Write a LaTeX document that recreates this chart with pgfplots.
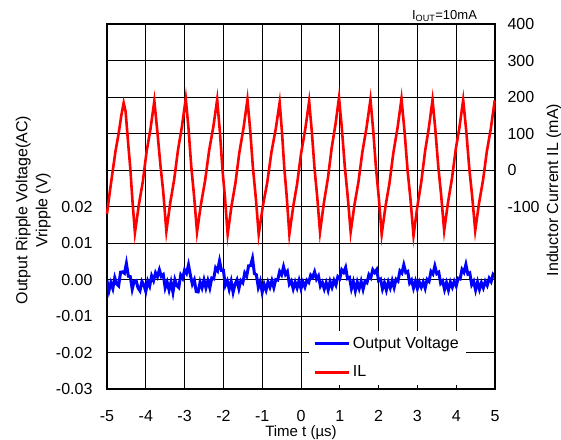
\documentclass[border=0pt]{standalone}
\usepackage{pgfplots}
\pgfplotsset{compat=1.18}
\usepackage{fontspec}
\setmainfont{Liberation Sans}
\begin{document}
\fontsize{16bp}{19bp}\selectfont
\begin{tikzpicture}
\begin{axis}[
  name=left,
  at={(0,0)}, anchor=south west,
  scale only axis, width=388bp, height=365bp,
  xmin=-5, xmax=5, ymin=-0.03, ymax=0.07,
  scaled y ticks=false, scaled x ticks=false,
  xtick={-5,-4,-3,-2,-1,0,1,2,3,4,5},
  xticklabels={-5,-4,-3,-2,-1,0,1,2,3,4,5},
  ytick={-0.03,-0.02,-0.01,0,0.01,0.02,0.03,0.04,0.05,0.06,0.07},
  yticklabels={-0.03,-0.02,-0.01,0.00,0.01,0.02,{},{},{},{},{}},
  /pgf/number format/assume math mode=true,
  grid=major,
  major grid style={black, line width=0.8bp},
  axis line style={black, line width=1.2bp},
  major tick length=0pt,
  xticklabel style={inner sep=1bp, yshift=-20bp},
  yticklabel style={xshift=-9bp},
  every axis x label/.style={at={(axis description cs:0.5,0)}, anchor=north, inner sep=0pt, yshift=-36.5bp, font=\fontsize{15bp}{18bp}\selectfont},
  every axis y label/.style={at={(axis description cs:-0.131,0.49)}, anchor=south, rotate=90, align=center, font=\fontsize{16bp}{20bp}\selectfont},
  xlabel={Time t (µs)},
  ylabel={Output Ripple Voltage(AC)\\Vripple (V)},
]
\addplot[blue, line width=3bp] coordinates {
(-5.00,-0.0003) (-4.95,-0.0031) (-4.90,-0.0009) (-4.85,-0.0025) (-4.80,0.0005)
(-4.75,-0.0012) (-4.70,-0.00175) (-4.65,0.0020) (-4.60,0.0021) (-4.55,0.0017)
(-4.50,0.0044) (-4.45,0.0009) (-4.40,0.0008) (-4.35,-0.00265) (-4.30,-0.00045)
(-4.25,-0.0003) (-4.20,-0.0023) (-4.15,-0.0031) (-4.10,-0.0005) (-4.05,-0.0015)
(-4.00,-0.0033) (-3.95,-0.00045) (-3.90,-0.0018) (-3.85,0.0010) (-3.80,-0.0003)
(-3.75,0.00185) (-3.70,0.00075) (-3.65,0.00265) (-3.60,0.00085) (-3.55,0.00135)
(-3.50,-0.0023) (-3.45,-0.0007) (-3.40,-0.0029) (-3.35,-0.0007) (-3.30,-0.0035)
(-3.25,-0.0001) (-3.20,-0.0017) (-3.15,-0.0022) (-3.10,0.0012) (-3.05,0.0003)
(-3.00,0.0026) (-2.95,0.0017) (-2.90,0.0040) (-2.85,0.0012) (-2.80,-0.0013)
(-2.75,-0.0001) (-2.70,-0.0033) (-2.65,-0.0034) (-2.60,-0.0007) (-2.55,-0.0023)
(-2.50,-0.0001) (-2.45,-0.0023) (-2.40,-0.0003) (-2.35,-0.0023) (-2.30,0.0004)
(-2.25,0.0002) (-2.20,0.0032) (-2.15,0.0024) (-2.10,0.0051) (-2.05,0.0025)
(-2.00,0.0025) (-1.95,-0.0016) (-1.90,-0.0004) (-1.85,-0.0027) (-1.80,-0.0005)
(-1.75,-0.0035) (-1.70,-0.0013) (-1.65,-0.0001) (-1.60,-0.0025) (-1.55,-0.0003)
(-1.50,-0.0009) (-1.45,0.0018) (-1.40,0.0009) (-1.35,0.00375) (-1.30,0.0038)
(-1.25,0.0058) (-1.20,0.0016) (-1.15,0.0013) (-1.10,-0.00215) (-1.05,-0.0005)
(-1.00,-0.0035) (-0.95,-0.0013) (-0.90,-0.0029) (-0.85,-0.0007) (-0.80,-0.0021)
(-0.75,-0.0003) (-0.70,-0.0022) (-0.65,0.0000) (-0.60,-0.00015) (-0.55,0.0022)
(-0.50,0.0013) (-0.45,0.0035) (-0.40,0.0014) (-0.35,0.0022) (-0.30,-0.00125)
(-0.25,-0.0004) (-0.20,-0.00255) (-0.15,-0.0007) (-0.10,-0.0023) (-0.05,-0.0003)
(0.00,-0.0025) (0.05,-0.0007) (0.10,-0.00205) (0.15,-0.0002) (0.20,-0.0008)
(0.25,0.0012) (0.30,0.0006) (0.35,0.0021) (0.40,0.0001) (0.45,0.0010)
(0.50,-0.0018) (0.55,-0.0008) (0.60,-0.0026) (0.65,-0.0009) (0.70,-0.0029)
(0.75,-0.0005) (0.80,-0.0021) (0.85,-0.00025) (0.90,-0.0015) (0.95,0.0008)
(1.00,0.00025) (1.05,0.00265) (1.10,0.00195) (1.15,0.0033) (1.20,0.00025)
(1.25,0.00055) (1.30,-0.0025) (1.35,-0.0006) (1.40,-0.0031) (1.45,-0.0007)
(1.50,-0.0025) (1.55,-0.0005) (1.60,-0.0027) (1.65,-0.0005) (1.70,-0.0009)
(1.75,0.0013) (1.80,0.0005) (1.85,0.0027) (1.90,0.0019) (1.95,0.0027)
(2.00,-0.0003) (2.05,0.0001) (2.10,-0.0026) (2.15,-0.0009) (2.20,-0.0029)
(2.25,-0.0007) (2.30,-0.0023) (2.35,-0.0003) (2.40,-0.0022) (2.45,0.00005)
(2.50,-0.00045) (2.55,0.00235) (2.60,0.00175) (2.65,0.0040) (2.70,0.0019)
(2.75,0.0022) (2.80,-0.00095) (2.85,-0.00015) (2.90,-0.00235) (2.95,-0.0005)
(3.00,-0.0025) (3.05,-0.0007) (3.10,-0.0021) (3.15,-0.0007) (3.20,-0.0024)
(3.25,0.0000) (3.30,-0.00055) (3.35,0.0022) (3.40,0.0015) (3.45,0.0037)
(3.50,0.0016) (3.55,0.0020) (3.60,-0.00105) (3.65,-0.0004) (3.70,-0.00275)
(3.75,-0.0009) (3.80,-0.0029) (3.85,-0.0007) (3.90,-0.0021) (3.95,-0.0005)
(4.00,-0.0018) (4.05,0.00035) (4.10,0.00015) (4.15,0.00275) (4.20,0.00195)
(4.25,0.0041) (4.30,0.0015) (4.35,0.0018) (4.40,-0.00145) (4.45,-0.0005)
(4.50,-0.0029) (4.55,-0.0007) (4.60,-0.0027) (4.65,-0.0009) (4.70,-0.0023)
(4.75,-0.0005) (4.80,-0.0016) (4.85,0.0003) (4.90,-0.0006) (4.95,0.0014)
(5.00,0.0008)
};
\end{axis}
\begin{axis}[
  at={(0,0)}, anchor=south west,
  scale only axis, width=388bp, height=365bp,
  xmin=-5, xmax=5, ymin=-600, ymax=400,
  axis x line=none,
  axis y line*=right,
  axis line style={black, line width=1.2bp},
  ytick={-600,-500,-400,-300,-200,-100,0,100,200,300,400},
  yticklabels={{},{},{},{},{},-100,0,100,200,300,400},
  /pgf/number format/assume math mode=true,
  major tick length=0pt,
  yticklabel style={xshift=7bp},
  every axis y label/.style={at={(axis description cs:1.1186,0.545)}, anchor=north, rotate=90},
  ylabel={Inductor Current IL (mA)},
  clip=false,
  legend style={at={(0.925,0.01)}, anchor=south east, draw=none, fill=white,
    inner xsep=5bp, inner ysep=4bp, row sep=11bp},
  legend cell align=left,
  legend image code/.code={\draw[#1] (0bp,0bp) -- (34bp,0bp);},
]
\addlegendimage{blue, line width=3bp}
\addlegendentry{Output Voltage}
\addplot[red, line width=2.6bp] coordinates {
(-5.00,-120) (-4.93,-62) (-4.86,-8) (-4.78,52) (-4.70,100) (-4.63,150) (-4.57,184)
(-4.52,160) (-4.46,80) (-4.40,5) (-4.34,-90) (-4.28,-172)
(-4.18,-96) (-4.08,-34) (-3.98,50) (-3.88,112) (-3.78,189)
(-3.70,103) (-3.62,10) (-3.55,-60) (-3.47,-168)
(-3.37,-90) (-3.27,-27) (-3.17,55) (-3.07,118) (-2.97,196)
(-2.90,115) (-2.83,12) (-2.75,-78) (-2.68,-170)
(-2.58,-95) (-2.47,-28) (-2.37,52) (-2.26,118) (-2.16,193)
(-2.09,104) (-2.02,-4) (-1.96,-75) (-1.89,-176)
(-1.79,-98) (-1.69,-36) (-1.59,47) (-1.48,116) (-1.38,193)
(-1.31,110) (-1.24,8) (-1.16,-82) (-1.09,-176)
(-0.98,-97) (-0.87,-34) (-0.76,50) (-0.65,113) (-0.55,185)
(-0.49,104) (-0.43,5) (-0.37,-70) (-0.30,-176)
(-0.20,-100) (-0.10,-38) (0.00,44) (0.11,112) (0.21,188)
(0.28,104) (0.35,3) (0.42,-76) (0.49,-170)
(0.59,-90) (0.69,-25) (0.79,60) (0.89,126) (0.98,198)
(1.05,118) (1.13,8) (1.20,-68) (1.28,-170)
(1.38,-94) (1.48,-33) (1.58,48) (1.69,117) (1.79,193)
(1.86,110) (1.93,9) (2.01,-82) (2.08,-176)
(2.18,-98) (2.28,-36) (2.38,47) (2.49,117) (2.59,195)
(2.67,104) (2.75,-5) (2.82,-78) (2.90,-180)
(3.00,-99) (3.10,-33) (3.20,53) (3.29,112) (3.39,192)
(3.46,114) (3.54,7) (3.61,-66) (3.69,-166)
(3.79,-88) (3.89,-24) (3.99,58) (4.08,114) (4.18,192)
(4.26,106) (4.34,1) (4.41,-70) (4.49,-166)
(4.59,-90) (4.69,-29) (4.79,51) (4.89,112) (4.99,188) (5.00,188)
};
\addlegendentry{IL}
\node[anchor=base east, inner sep=0pt, font=\fontsize{13bp}{15bp}\selectfont] at (axis description cs:0.954,1) [yshift=5bp] {I\textsubscript{OUT}=10mA};
\end{axis}
\pgfresetboundingbox
\path[use as bounding box] (-107bp,-51bp) rectangle (454bp,389bp);
\end{tikzpicture}
\end{document}
